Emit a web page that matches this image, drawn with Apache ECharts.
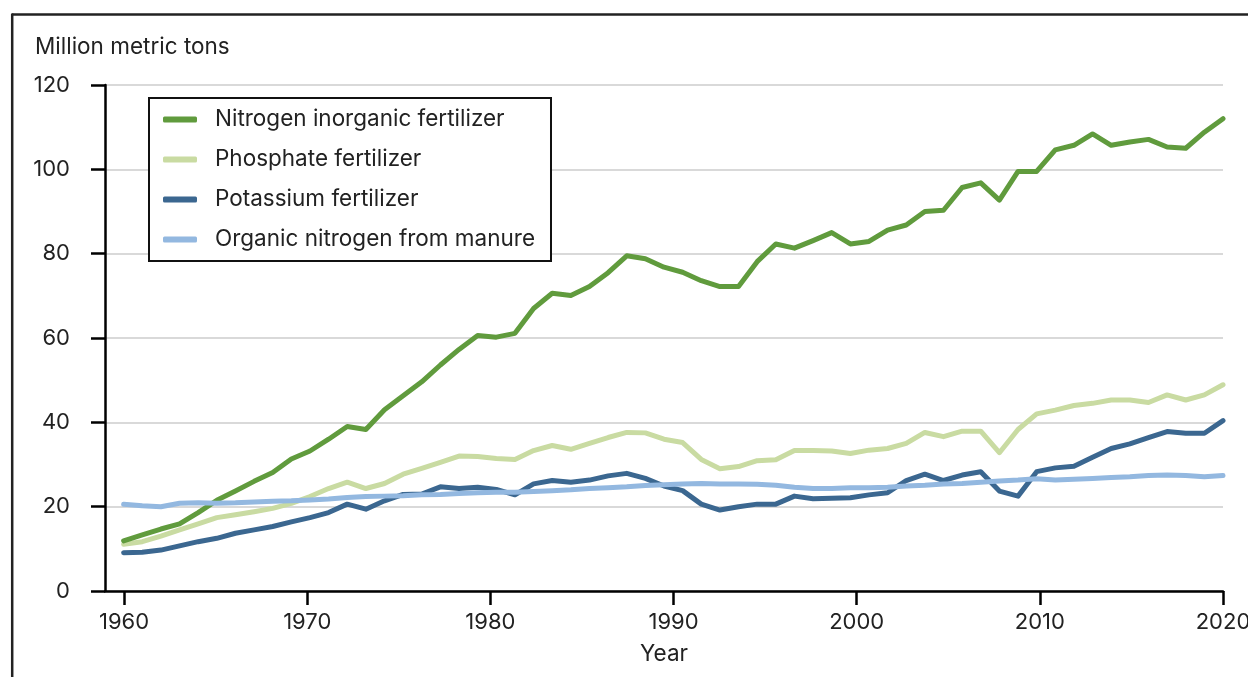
<!DOCTYPE html>
<html>
<head>
<meta charset="utf-8">
<script src="https://cdn.jsdelivr.net/npm/echarts@6/dist/echarts.min.js"></script>
<style>
html,body{margin:0;padding:0;background:#fff;}
#chart{width:1248px;height:677px;}
</style>
</head>
<body>
<div id="chart"></div>
<script>
var years = [1961,1962,1963,1964,1965,1966,1967,1968,1969,1970,
             1971,1972,1973,1974,1975,1976,1977,1978,1979,1980,
             1981,1982,1983,1984,1985,1986,1987,1988,1989,1990,
             1991,1992,1993,1994,1995,1996,1997,1998,1999,2000,
             2001,2002,2003,2004,2005,2006,2007,2008,2009,2010,
             2011,2012,2013,2014,2015,2016,2017,2018,2019,2020];

var nitrogen = [11.9,13.3,14.7,15.9,18.6,21.5,23.7,26.0,28.1,31.3,
                33.2,36.0,39.0,38.3,43.0,46.3,49.6,53.6,57.3,60.6,
                60.2,61.1,67.0,70.6,70.1,72.2,75.5,79.5,78.8,76.8,
                75.6,73.6,72.2,72.2,78.1,82.3,81.3,83.1,85.0,82.3,
                82.9,85.6,86.8,90.0,90.3,95.7,96.8,92.7,99.5,99.5,
                104.6,105.7,108.4,105.7,106.5,107.1,105.3,105.0,108.8,112.0];

var phosphate = [11.1,11.7,13.0,14.5,15.9,17.4,18.1,18.8,19.6,20.8,
                 22.4,24.3,25.8,24.3,25.5,27.7,29.1,30.5,32.0,31.9,
                 31.4,31.2,33.3,34.5,33.6,35.0,36.4,37.6,37.5,36.0,
                 35.2,31.2,29.0,29.5,30.9,31.1,33.3,33.3,33.2,32.6,
                 33.4,33.8,35.0,37.6,36.6,37.9,37.9,32.8,38.3,42.0,
                 42.9,44.0,44.5,45.3,45.3,44.7,46.5,45.3,46.5,48.9];

var potassium = [9.1,9.2,9.7,10.7,11.7,12.5,13.7,14.5,15.3,16.4,
                 17.4,18.6,20.6,19.4,21.4,22.9,23.0,24.7,24.3,24.6,
                 24.1,22.8,25.4,26.2,25.8,26.3,27.3,27.9,26.7,24.9,
                 23.8,20.6,19.2,20.0,20.6,20.6,22.5,21.9,22.0,22.1,
                 22.8,23.3,26.2,27.7,26.2,27.5,28.3,23.7,22.5,28.3,
                 29.2,29.6,31.7,33.8,34.9,36.4,37.8,37.4,37.4,40.4];

var manure = [20.6,20.2,20.0,20.8,20.9,20.8,20.9,21.1,21.3,21.4,
              21.6,21.8,22.2,22.4,22.5,22.6,22.8,22.9,23.1,23.3,
              23.4,23.4,23.6,23.8,24.0,24.3,24.5,24.7,25.0,25.2,
              25.4,25.5,25.4,25.4,25.3,25.1,24.6,24.3,24.3,24.5,
              24.5,24.6,24.9,25.1,25.4,25.5,25.8,26.1,26.3,26.6,
              26.3,26.5,26.7,26.9,27.1,27.4,27.5,27.4,27.1,27.4];

var seriesNames = ['Nitrogen inorganic fertilizer','Phosphate fertilizer','Potassium fertilizer','Organic nitrogen from manure'];
var xTickYears = [1960,1970,1980,1990,2000,2010,2020];
var yTicks = [0,20,40,60,80,100,120];
var yAxisTitle = 'Million metric tons';
var xAxisTitle = 'Year';

function pairs(vals){ return vals.map(function(v,i){ return [years[i], v]; }); }

var FONT = 'Inter, "Noto Sans", sans-serif';
var FS = 22.5;
var FS_AX = 22;
var TXT = '#222';
var colors = ['#609b3d','#c9dba2','#3b6790','#93b8e0'];
var valuesList = [nitrogen, phosphate, potassium, manure];
var zs = [3,2,4,5];

var chart = echarts.init(document.getElementById('chart'), null, {renderer:'canvas'});
chart.setOption({
  animation: false,
  backgroundColor: '#fff',
  textStyle: {fontFamily: FONT},
  title: {
    text: yAxisTitle, left: 35, top: 36, padding: 0,
    textStyle: {fontFamily: FONT, fontSize: FS, fontWeight: 'normal', color: TXT}
  },
  grid: {left: 105, right: 25, top: 85, bottom: 86, outerBoundsMode: 'none', containLabel: false},
  legend: {
    orient: 'vertical', left: 149, top: 98,
    padding: [10, 16, 10, 14],
    itemGap: 17, itemWidth: 34, itemHeight: 6, icon: 'roundRect',
    borderColor: '#111', borderWidth: 2, backgroundColor: '#fff',
    textStyle: {fontFamily: FONT, fontSize: FS, color: TXT, lineHeight: 22, padding: [0,0,0,13]},
    data: seriesNames
  },
  xAxis: [{
    type: 'value', min: 1958.96, max: 2020,
    name: xAxisTitle, nameLocation: 'middle', nameGap: 52,
    nameTextStyle: {fontFamily: FONT, fontSize: FS, color: TXT},
    axisLine: {show: true, lineStyle: {color: '#000', width: 2.5}},
    axisTick: {show: true, length: 14, lineStyle: {color: '#000', width: 2.5}, customValues: xTickYears},
    axisLabel: {fontFamily: FONT, fontSize: FS_AX, color: TXT, margin: 20, customValues: xTickYears,
                hideOverlap: false, showMinLabel: true, showMaxLabel: true,
                formatter: function(v){ return String(v); }},
    splitLine: {show: false}
  },{
    type: 'value', min: 1960, max: 2020, show: false
  }],
  yAxis: {
    type: 'value', min: 0, max: 120, interval: 20,
    axisLine: {show: true, lineStyle: {color: '#000', width: 2.5}},
    axisTick: {show: true, length: 14, lineStyle: {color: '#000', width: 2.5}},
    axisLabel: {fontFamily: FONT, fontSize: FS_AX, color: TXT, margin: 35},
    splitLine: {show: true, lineStyle: {color: '#cccccc', width: 1.5}}
  },
  graphic: [
    {type: 'line', shape: {x1: 12, y1: 14.5, x2: 1248, y2: 14.5}, style: {stroke: '#222', lineWidth: 2.5}},
    {type: 'line', shape: {x1: 12.2, y1: 13.5, x2: 12.2, y2: 677}, style: {stroke: '#222', lineWidth: 2.5}}
  ],
  series: seriesNames.map(function(n, k){
    return {
      name: n, type: 'line', xAxisIndex: 1, yAxisIndex: 0,
      data: pairs(valuesList[k]), symbol: 'none', z: zs[k],
      color: colors[k],
      lineStyle: {color: colors[k], width: 5, cap: 'round', join: 'round'},
      itemStyle: {color: colors[k]}
    };
  })
});
</script>
</body>
</html>
